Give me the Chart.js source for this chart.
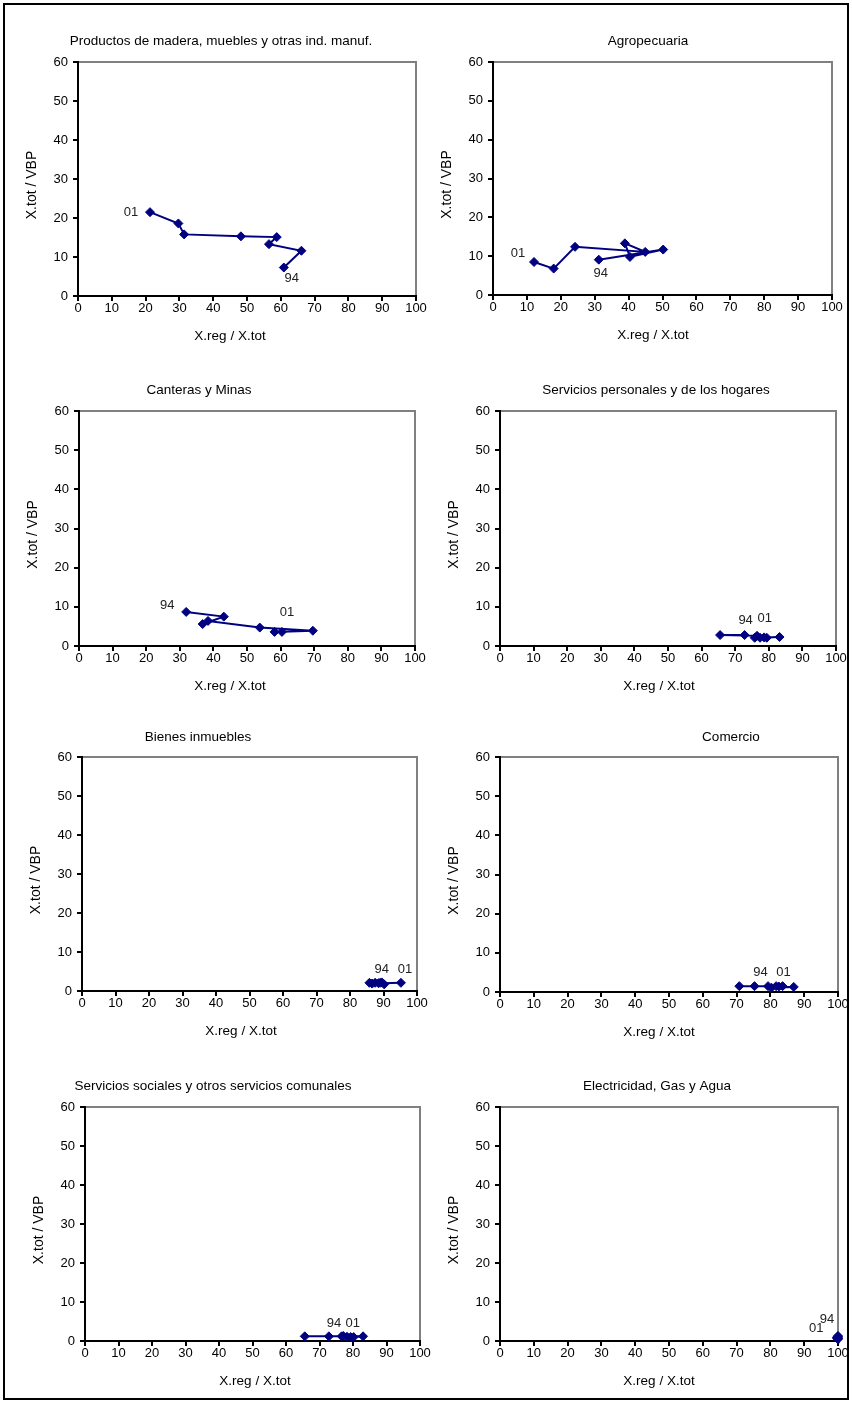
<!DOCTYPE html>
<html><head><meta charset="utf-8">
<script src="https://cdn.jsdelivr.net/npm/chart.js@4.4.1/dist/chart.umd.min.js"></script>
<style>
html,body{margin:0;padding:0;background:#fff}
body{width:852px;height:1403px;position:relative;overflow:hidden}
#frame{position:absolute;left:3px;top:3px;width:842px;height:1393px;border:2px solid #000}
canvas{position:absolute}
</style></head><body><div id="frame"></div>
<script>
// ---------- data ----------
const titles = [
  "Productos de madera, muebles y otras ind. manuf.",
  "Agropecuaria",
  "Canteras y Minas",
  "Servicios personales y de los hogares",
  "Bienes inmuebles",
  "Comercio",
  "Servicios sociales y otros servicios comunales",
  "Electricidad, Gas y Agua"
];
const xAxisTitle = "X.reg / X.tot";
const yAxisTitle = "X.tot / VBP";
const xTicks = [0,10,20,30,40,50,60,70,80,90,100];
const yTicks = [0,10,20,30,40,50,60];
const yearFirst = "94";
const yearLast = "01";

const maderaX = [60.9,66.1,56.5,58.8,48.2,31.4,29.7,21.3];
const maderaY = [7.3,11.6,13.3,15.1,15.3,15.8,18.6,21.5];
const agroX = [31.2,50.2,40.4,38.9,44.9,24.2,17.9,12.1];
const agroY = [9.1,11.7,9.8,13.3,11.1,12.4,6.8,8.5];
const canterasX = [31.9,43.1,36.8,38.4,53.8,69.6,58.2,60.4];
const canterasY = [8.7,7.5,5.6,6.4,4.7,3.9,3.6,3.6];
const persX = [72.8,65.5,76.5,75.8,77.4,83.2,78.6,79.4];
const persY = [2.8,2.8,2.6,2.1,2.1,2.3,2.2,2.1];
const inmueblesX = [89.5,85.8,87.5,88.5,90.2,89.0,86.6,95.2];
const inmueblesY = [2.2,2.1,2.1,2.0,1.7,2.1,1.9,2.1];
const comercioX = [75.3,70.8,79.3,80.3,86.9,81.7,82.5,83.6];
const comercioY = [1.5,1.5,1.5,1.1,1.3,1.5,1.4,1.5];
const socialesX = [72.8,65.6,76.6,77.1,83.0,80.2,78.2,79.3];
const socialesY = [1.2,1.2,1.2,1.3,1.2,1.0,1.1,1.0];
const electX = [100,99.8,100,99.9,100,99.7,100,99.8];
const electY = [1.3,0.9,0.6,1.1,0.5,0.8,1.0,0.7];

const seriesX = [maderaX,agroX,canterasX,persX,inmueblesX,comercioX,socialesX,electX];
const seriesY = [maderaY,agroY,canterasY,persY,inmueblesY,comercioY,socialesY,electY];

// ---------- layout (page pixels) ----------
const plotBoxes = [ // L,T,R,B
  [78,62,416,296],[493,62,832,295],
  [79,411,415,646],[500,411,836,646],
  [82,757,417,991],[500,757,838,992],
  [85,1107,420,1341],[500,1107,838,1341]
];
const titlePos = [[221,41],[648,41],[199,390],[656,390],[198,737],[731,737],[213,1086],[657,1086]];
const xTitleX = [230,653,230,659,241,659,255,659];
const labelOffsets = [ // [dx,dy] for first, last
  [[8,11],[-19,0]],
  [[2,14],[-16,-9]],
  [[-19,-7],[5,-19]],
  [[1,-15],[-2,-19]],
  [[0,-13],[4,-13]],
  [[6,-14],[1,-14]],
  [[5,-13],[2,-14]],
  [[-11,-17],[-21,-10]]
];

const FONT = "'Liberation Sans', Arial, sans-serif";
const LM = 75, TM = 55, RM = 20, BM = 55;

const panelPlugin = {
  id: 'panelText',
  beforeDatasetsDraw(chart) {
    const a = chart.chartArea, c = chart.ctx;
    c.save();
    c.strokeStyle = '#808080'; c.lineWidth = 2;
    c.beginPath();
    c.moveTo(a.left + 1, a.top); c.lineTo(a.right, a.top); c.lineTo(a.right, a.bottom - 1);
    c.stroke();
    c.restore();
  },
  afterDraw(chart, args, o) {
    const c = chart.ctx, a = chart.chartArea;
    c.save();
    c.fillStyle = '#000';
    c.textAlign = 'center'; c.textBaseline = 'middle';
    c.font = '13.5px ' + FONT;
    c.fillText(o.title, o.titleX, o.titleY);
    c.font = '13.5px ' + FONT;
    c.fillText(xAxisTitle, o.xTitleX, a.bottom + 40);
    c.save();
    c.translate(a.left - 46, (a.top + a.bottom) / 2 + 6);
    c.rotate(-Math.PI / 2);
    c.font = '14px ' + FONT;
    c.fillText(yAxisTitle, 0, 0);
    c.restore();
    const pts = chart.getDatasetMeta(0).data;
    c.fillStyle = '#222';
    c.font = '13px ' + FONT;
    const f = pts[0], l = pts[pts.length - 1];
    c.fillText(yearFirst, f.x + o.off[0][0], f.y + o.off[0][1]);
    c.fillText(yearLast, l.x + o.off[1][0], l.y + o.off[1][1]);
    c.restore();
  }
};

function axisCommon(ticksArr, isX) {
  return {
    type: 'linear',
    min: ticksArr[0], max: ticksArr[ticksArr.length - 1],
    afterBuildTicks(s) { s.ticks = ticksArr.map(v => ({ value: v })); },
    afterFit(s) { if (isX) s.height = BM; else s.width = LM; },
    ticks: {
      color: '#000', font: { family: FONT, size: 13, lineHeight: 1 },
      padding: isX ? 1 : 5, autoSkip: false, maxRotation: 0, minRotation: 0
    },
    grid: { display: true, drawOnChartArea: false, drawTicks: true, tickLength: 5, color: '#000', lineWidth: 2 },
    border: { display: true, color: '#000', width: 2 }
  };
}

for (let i = 0; i < 8; i++) {
  const [L, T, R, B] = plotBoxes[i];
  const cv = document.createElement('canvas');
  const left = L - LM, top = T - TM;
  const w = (R - L) + LM + RM, h = (B - T) + TM + BM;
  cv.width = w; cv.height = h;
  cv.style.left = left + 'px'; cv.style.top = top + 'px';
  cv.style.width = w + 'px'; cv.style.height = h + 'px';
  document.body.appendChild(cv);
  const pts = seriesX[i].map((x, k) => ({ x: x, y: seriesY[i][k] }));
  new Chart(cv, {
    type: 'scatter',
    data: { datasets: [{
      data: pts, showLine: true,
      borderColor: '#000080', backgroundColor: '#000080',
      borderWidth: 2, pointStyle: 'rectRot', pointRadius: 4.5, pointHoverRadius: 4.5,
      pointBorderWidth: 1, clip: false, tension: 0
    }]},
    options: {
      responsive: false, animation: false, events: [],
      devicePixelRatio: 1,
      layout: { padding: { left: 0, top: TM, right: RM, bottom: 0 } },
      plugins: {
        legend: { display: false }, tooltip: { enabled: false }, title: { display: false },
        panelText: {
          title: titles[i],
          titleX: titlePos[i][0] - left, titleY: titlePos[i][1] - top,
          xTitleX: xTitleX[i] - left,
          off: labelOffsets[i]
        }
      },
      scales: { x: axisCommon(xTicks, true), y: axisCommon(yTicks, false) }
    },
    plugins: [panelPlugin]
  });
}
</script>
</body></html>
